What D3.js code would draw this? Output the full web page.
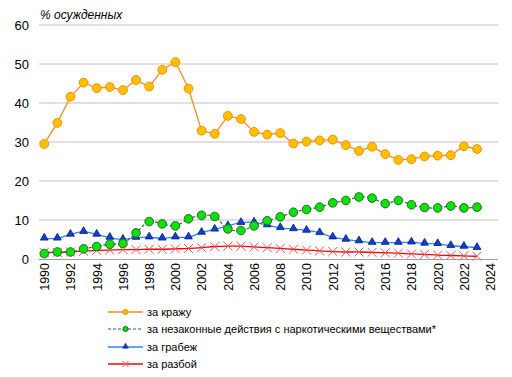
<!DOCTYPE html>
<html><head><meta charset="utf-8">
<script src="https://cdn.jsdelivr.net/npm/d3@7"></script>
<style>body{margin:0;background:#fff;}svg{display:block;font-family:Arial,"Liberation Sans",sans-serif;}</style>
</head><body><svg id="c" width="512" height="377"></svg>
<script>
const years = d3.range(1990, 2024);
const yTicks = [0, 10, 20, 30, 40, 50, 60];
const xTicks = d3.range(1990, 2025, 2);
const theft = [29.5,34.9,41.6,45.2,43.8,44.1,43.3,45.9,44.2,48.5,50.5,43.7,32.9,32.1,36.7,35.9,32.6,31.9,32.3,29.6,30.1,30.4,30.6,29.2,27.7,28.8,26.9,25.4,25.6,26.3,26.5,26.6,28.9,28.2];
const drugs = [1.4,1.8,1.8,2.6,3.2,3.8,4.0,6.7,9.6,9.0,8.5,10.3,11.2,10.9,7.7,7.3,8.5,9.8,10.8,12.0,12.7,13.3,14.4,15.0,15.9,15.6,14.2,15.0,13.9,13.2,13.1,13.6,13.1,13.3];
const robbery = [5.3,5.3,6.3,7.0,6.3,5.5,5.0,5.5,5.6,5.3,5.6,5.6,6.8,7.6,8.5,9.3,9.4,8.7,8.0,7.7,7.3,6.7,5.6,5.0,4.6,4.2,4.2,4.2,4.3,4.0,3.9,3.4,3.2,2.9];
const assault = [1.7,1.7,1.8,2.0,2.2,2.3,2.4,2.4,2.5,2.5,2.6,2.7,2.9,3.2,3.3,3.3,3.1,2.9,2.7,2.5,2.3,2.1,1.9,1.8,1.8,1.7,1.6,1.5,1.3,1.2,1.0,0.9,0.8,0.7];
const labels = ["за кражу","за незаконные действия с наркотическими веществами*","за грабеж","за разбой"];

const svg = d3.select("#c");
const x = d3.scaleLinear().domain([1989.6, 2024.6]).range([39, 498]);
const y = d3.scaleLinear().domain([0, 60]).range([259, 25]);

// grid
svg.append("g").selectAll("line").data(yTicks.filter(d=>d>0)).join("line")
  .attr("x1", 39).attr("x2", 498).attr("y1", d=>y(d)).attr("y2", d=>y(d))
  .attr("stroke", "#c0c0c0").attr("stroke-width", 1);

// y axis
const ya = svg.append("g").attr("transform","translate(39,0)").call(d3.axisLeft(y).tickValues(yTicks).tickSize(0).tickPadding(10));
ya.select(".domain").remove();
ya.selectAll("text").attr("font-size", 13).attr("fill","#000").style("font-family","Arial, 'Liberation Sans', sans-serif");

// x axis
const xa = svg.append("g").attr("transform","translate(0,259)").call(d3.axisBottom(x).tickValues(xTicks).tickFormat(d3.format("d")).tickSize(0));
xa.select(".domain").attr("d","M39,0.5H498").attr("stroke","#a0a0a0");
xa.selectAll("text").attr("font-size", 12.5).attr("fill","#000").style("font-family","Arial, 'Liberation Sans', sans-serif")
  .attr("transform","rotate(-90)").attr("text-anchor","end").attr("x",-4).attr("y",0).attr("dy","0.35em");

// title
svg.append("text").attr("x",40).attr("y",19).attr("font-size",12).attr("font-style","italic").text("% осужденных");

const pts = arr => arr.map((v,i)=>[x(years[i]), y(v)]);
const lineStraight = d3.line();
const lineSmooth = d3.line().curve(d3.curveCatmullRom.alpha(0.5));

// red (assault)
svg.append("path").attr("d", lineSmooth(pts(assault))).attr("fill","none").attr("stroke","#ff0000").attr("stroke-width",1.3);
const cross = (g, cx, cy, s, col) => {
  g.append("path").attr("d",`M${cx-s},${cy-s}L${cx+s},${cy+s}M${cx-s},${cy+s}L${cx+s},${cy-s}`).attr("stroke",col).attr("stroke-width",1).attr("fill","none");
};
const rg = svg.append("g");
pts(assault).forEach(p=>cross(rg,p[0],p[1],4.5,"#ff5050"));

// blue (robbery)
svg.append("path").attr("d", lineSmooth(pts(robbery))).attr("fill","none").attr("stroke","#3380ff").attr("stroke-width",1.3);
const tri = d3.symbol().type(d3.symbolTriangle).size(26);
svg.append("g").selectAll("path").data(pts(robbery)).join("path")
  .attr("d", tri).attr("transform", d=>`translate(${d[0]},${d[1]-0.5})`)
  .attr("fill","#1040d0").attr("stroke","#001a80").attr("stroke-width",0.8);

// green (drugs)
svg.append("path").attr("d", lineSmooth(pts(drugs))).attr("fill","none").attr("stroke","#2f6b3a").attr("stroke-width",1.2).attr("stroke-dasharray","3,2");
svg.append("g").selectAll("circle").data(pts(drugs)).join("circle")
  .attr("cx", d=>d[0]).attr("cy", d=>d[1]).attr("r",4.3)
  .attr("fill","#10e010").attr("stroke","#187018").attr("stroke-width",1);

// orange (theft)
svg.append("path").attr("d", lineStraight(pts(theft))).attr("fill","none").attr("stroke","#ff8a1a").attr("stroke-width",1.3);
svg.append("g").selectAll("circle").data(pts(theft)).join("circle")
  .attr("cx", d=>d[0]).attr("cy", d=>d[1]).attr("r",4.4)
  .attr("fill","#ffc000").attr("stroke","#ff8a00").attr("stroke-width",1);

// legend
const leg = svg.append("g");
const ly = [312, 329, 347, 364];
const lx1 = 108, lx2 = 143, lm = 125.5;
leg.append("line").attr("x1",lx1).attr("x2",lx2).attr("y1",ly[0]).attr("y2",ly[0]).attr("stroke","#ff8a1a").attr("stroke-width",1.3);
leg.append("circle").attr("cx",lm).attr("cy",ly[0]).attr("r",2.6).attr("fill","#ffc000").attr("stroke","#ff8a00");
leg.append("line").attr("x1",lx1).attr("x2",lx2).attr("y1",ly[1]).attr("y2",ly[1]).attr("stroke","#2f6b3a").attr("stroke-width",1.2).attr("stroke-dasharray","3,2");
leg.append("circle").attr("cx",lm).attr("cy",ly[1]).attr("r",2.6).attr("fill","#10e010").attr("stroke","#187018");
leg.append("line").attr("x1",lx1).attr("x2",lx2).attr("y1",ly[2]).attr("y2",ly[2]).attr("stroke","#3380ff").attr("stroke-width",1.3);
leg.append("path").attr("d", d3.symbol().type(d3.symbolTriangle).size(14)).attr("transform",`translate(${lm},${ly[2]-0.5})`).attr("fill","#1040d0").attr("stroke","#001a80").attr("stroke-width",0.6);
leg.append("line").attr("x1",lx1).attr("x2",lx2).attr("y1",ly[3]).attr("y2",ly[3]).attr("stroke","#ff0000").attr("stroke-width",1.3);
cross(leg, lm, ly[3], 3, "#ff5050");
leg.selectAll("text.l").data(labels).join("text").attr("class","l")
  .attr("x",147).attr("y",(d,i)=>ly[i]).attr("dy","0.35em").attr("font-size",11).attr("fill","#000").text(d=>d);
</script></body></html>
